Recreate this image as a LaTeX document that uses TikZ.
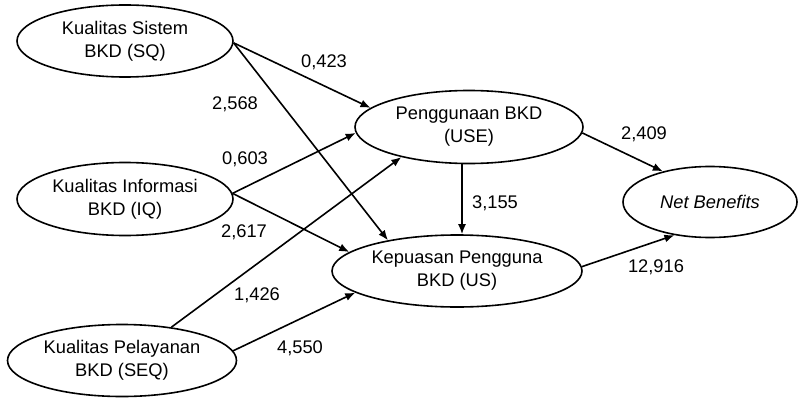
\documentclass[tikz,border=0pt]{standalone}
\usepackage{fontspec}
\setmainfont{Liberation Sans}
\usetikzlibrary{shapes.geometric,arrows.meta}
\begin{document}
\begin{tikzpicture}[x=1pt,y=1pt,
  var/.style={ellipse,draw,line width=1.6pt,inner sep=0pt,minimum height=72pt,align=center,font=\fontsize{18.3}{23}\selectfont},
  val/.style={inner sep=1pt,font=\fontsize{18.3}{22}\selectfont},
  arr/.style={line width=1.6pt,-{Latex[length=10pt,width=8pt]}}]
\useasboundingbox (0,0) rectangle (799,397);
\node[var,minimum width=216pt] (SQ) at (125,356) {Kualitas Sistem\\BKD (SQ)};
\node[var,minimum width=216pt,minimum height=73pt] (IQ) at (125,198) {Kualitas Informasi\\BKD (IQ)};
\node[var,minimum width=229pt] (SEQ) at (122,36.5) {Kualitas Pelayanan\\BKD (SEQ)};
\node[var,minimum width=228pt,minimum height=73pt] (USE) at (469,270) {Penggunaan BKD\\(USE)};
\node[var,minimum width=250pt] (US) at (457,126) {Kepuasan Pengguna\\BKD (US)};
\node[var,minimum width=174pt,minimum height=71pt] (NB) at (710,195) {\itshape Net Benefits};
\coordinate (vx) at (462,0);
\draw[arr] (SQ.-1) -- (USE.169);
\draw[arr] (SQ.-1) -- (US.156);
\draw[arr] (IQ.3) -- (USE.183);
\draw[arr] (IQ.3) -- (US.170);
\draw[arr] (SEQ.34.5) -- (USE.204);
\draw[arr] (SEQ.5) -- (US.192);
\draw[arr] (USE.south -| vx) -- (US.north -| vx);
\draw[arr] (USE.-3) -- (NB.147);
\draw[arr] (US.2) -- (NB.223);
\node[val] (l1) at (324,335) {0,423};
\node[val] (l2) at (235,293) {2,568};
\node[val] (l3) at (245,238) {0,603};
\node[val] (l4) at (244,165) {2,617};
\node[val] (l5) at (257,102) {1,426};
\node[val] (l6) at (300,49) {4,550};
\node[val] (l7) at (644,263) {2,409};
\node[val] (l8) at (495,194) {3,155};
\node[val] (l9) at (656,130) {12,916};
\end{tikzpicture}
\end{document}
